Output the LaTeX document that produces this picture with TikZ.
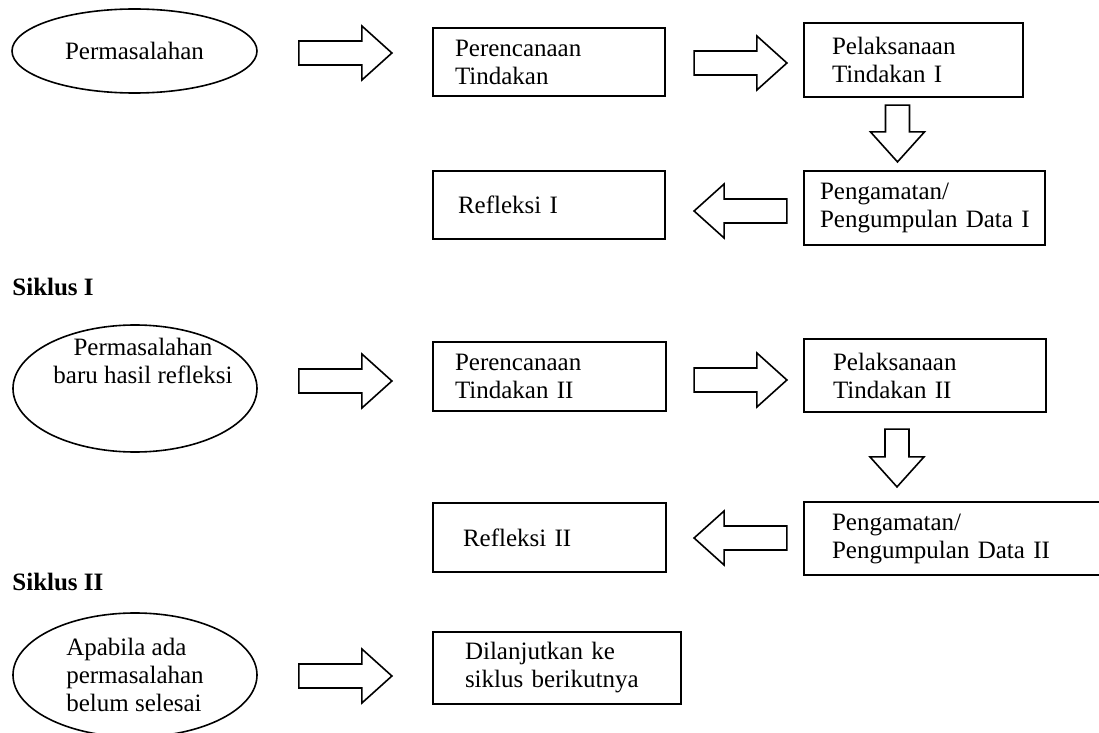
\documentclass[tikz,border=0pt]{standalone}
\usepackage{fontspec}
\setmainfont{Liberation Serif}
\usetikzlibrary{calc}
\usetikzlibrary{shapes.geometric}
\tikzset{
    every node/.style={font=\fontsize{12.5pt}{14pt}\selectfont},
    box/.style={draw, rectangle, line width=1.1pt, align=left, inner ysep=0pt},
    ell/.style={draw, ellipse, line width=0.8pt, inner sep=0pt},
    arrowline/.style={draw, line width=0.8pt, line join=miter},
    siklus/.style={font=\fontsize{12.5pt}{14pt}\selectfont\bfseries, inner sep=0pt, anchor=base west}
}
\newcommand{\blockarrow}[2]{%
    \coordinate (hb) at ($(#2)!15pt!(#1)$);
    \draw[arrowline] ($(#1)!6pt!90:(#2)$) -- ($(hb)!6pt!90:(#2)$) -- ($(hb)!13.5pt!90:(#2)$) -- (#2)
        -- ($(hb)!13.5pt!-90:(#2)$) -- ($(hb)!6pt!-90:(#2)$) -- ($(#1)!6pt!-90:(#2)$) -- cycle;
}

\begin{document}
\begin{tikzpicture}[x=0.5pt, y=-0.5pt]
\useasboundingbox (0,0) rectangle (1099,733);
% Siklus I
\node[ell, minimum width=122.5pt, minimum height=42pt] (perm1) at (134.5,51) {Permasalahan};
\node[box, text width=94pt, inner xsep=11pt, minimum height=34pt] (ren1) at (549,62) {Perencanaan\\Tindakan};
\node[box, text width=81.5pt, inner xsep=14pt, minimum height=37pt] (pel1) at (913.5,60) {Pelaksanaan\\Tindakan I};
\node[box, text width=104.5pt, inner xsep=8pt, minimum height=37pt] (pen1) at (924.5,208) {Pengamatan/\\Pengumpulan~Data~I};
\node[box, text width=91pt, inner xsep=12.5pt, minimum height=34pt] (ref1) at (549,205) {Refleksi I};
\node[siklus] (sik1) at (12,295) {Siklus I};

\coordinate (r1s) at ($(perm1.east)+(41,2)$);
\coordinate (r1e) at ($(ren1.west |- r1s)+(-40,0)$);
\coordinate (r2s) at ($(ren1.east)+(28,1)$);
\coordinate (r2e) at ($(pel1.west |- r2s)+(-16,0)$);
\coordinate (d1s) at ($(pel1.south)+(-16,7)$);
\coordinate (d1e) at ($(pen1.north -| d1s)+(0,-8)$);
\coordinate (l1s) at ($(pen1.west)+(-16,3)$);
\coordinate (l1e) at ($(ref1.east |- l1s)+(28,0)$);
\blockarrow{r1s}{r1e}
\blockarrow{r2s}{r2e}
\blockarrow{d1s}{d1e}
\blockarrow{l1s}{l1e}

% Siklus II
\node[ell, minimum width=122pt, minimum height=63.5pt] (perm2) at (135,388.5) {};
\node[align=center, inner sep=0pt] (perm2txt) at (143,361) {Permasalahan\\baru hasil refleksi};
\node[box, text width=94.5pt, inner xsep=11pt, minimum height=34.5pt] (ren2) at (549.5,376.5) {Perencanaan\\Tindakan II};
\node[box, text width=92pt, inner xsep=14.5pt, minimum height=36.5pt] (pel2) at (925,375.5) {Pelaksanaan\\Tindakan II};
\node[box, text width=122pt, inner xsep=14pt, minimum height=36.5pt] (pen2) at (954,538.5) {Pengamatan/\\Pengumpulan~Data~II};
\node[box, text width=86.5pt, inner xsep=15pt, minimum height=34.5pt] (ref2) at (549.5,537.5) {Refleksi II};
\node[siklus] (sik2) at (12,590) {Siklus II};

\coordinate (r3s) at ($(perm2.east)+(41,-7.5)$);
\coordinate (r3e) at ($(ren2.west |- r3s)+(-40,0)$);
\coordinate (r4s) at ($(ren2.east)+(27,3.5)$);
\coordinate (r4e) at ($(pel2.west |- r4s)+(-16,0)$);
\coordinate (d2s) at ($(pel2.south)+(-28,16)$);
\coordinate (d2e) at ($(pen2.north -| d2s)+(0,-14)$);
\coordinate (l2s) at ($(pen2.west)+(-16,-0.5)$);
\coordinate (l2e) at ($(ref2.east |- l2s)+(27,0)$);
\blockarrow{r3s}{r3e}
\blockarrow{r4s}{r4e}
\blockarrow{d2s}{d2e}
\blockarrow{l2s}{l2e}

% lanjut
\node[ell, align=left, minimum width=122pt, minimum height=62pt] (perm3) at (135,675) {Apabila ada\\permasalahan\\belum selesai};
\node[box, text width=92pt, inner xsep=16pt, minimum height=36pt] (lan) at (557,668) {Dilanjutkan ke\\siklus berikutnya};
\coordinate (r5s) at ($(perm3.east)+(41,1)$);
\coordinate (r5e) at ($(lan.west |- r5s)+(-40,0)$);
\blockarrow{r5s}{r5e}
\end{tikzpicture}
\end{document}
